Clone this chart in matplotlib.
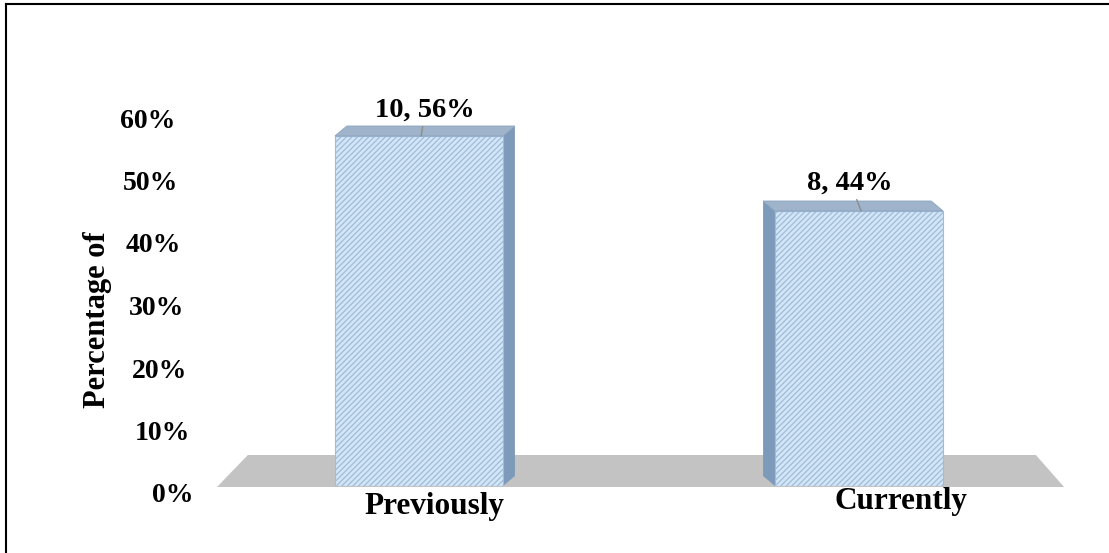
import matplotlib.pyplot as plt
import matplotlib.transforms as mtransforms
from matplotlib.patches import Polygon
from matplotlib.lines import Line2D

plt.rcParams["font.family"] = "Liberation Serif"
plt.rcParams["font.weight"] = "bold"
plt.rcParams["hatch.color"] = "#9fbcd8"
plt.rcParams["hatch.linewidth"] = 0.9

categories = ["Previously", "Currently"]
counts = [10, 8]
percents = [56, 44]
yticks = [0, 10, 20, 30, 40, 50, 60]

W, H = 1109, 553
fig = plt.figure(figsize=(W / 100, H / 100), dpi=100)
ax = fig.add_axes([199 / W, (H - 486) / H, 880 / W, 375 / H])
ax.set_xlim(-0.5, 1.5)
ax.set_ylim(0, 60)
ax.axis("on")
for s in ax.spines.values():
    s.set_visible(False)

# grey floor (perspective slab)
floor = Polygon([(-0.459, -0.16), (-0.389, 4.96), (1.402, 4.96), (1.466, -0.16)],
                closed=True, facecolor="#c3c3c3", edgecolor="none", clip_on=False, zorder=1)
ax.add_patch(floor)

x = list(range(len(categories)))
width = 0.382
bars = ax.bar(x, percents, width=width, color="#d3e6f8", edgecolor="#9fbcd8",
              linewidth=0.8, hatch="//////", zorder=3)

# fake 3D: top and side faces
for xi, v in zip(x, percents):
    dx = -(xi - 0.5) * 0.054
    dy = 1.6
    l, r = xi - width / 2, xi + width / 2
    top = Polygon([(l, v), (r, v), (r + dx, v + dy), (l + dx, v + dy)],
                  closed=True, facecolor="#9fb3cb", edgecolor="#8aa3bf", lw=0.6,
                  clip_on=False, zorder=4)
    ax.add_patch(top)
    edge = r if dx > 0 else l
    side = Polygon([(edge, 0), (edge, v), (edge + dx, v + dy), (edge + dx, dy)],
                   closed=True, facecolor="#7d9aba", edgecolor="none",
                   clip_on=False, zorder=2)
    ax.add_patch(side)

# value labels with leader lines
offsets = [(4, 26), (-11, 28)]
for xi, v, n, off in zip(x, percents, counts, offsets):
    ax.annotate(f"{n}, {v}%", xy=(xi + 0.005, v), xytext=off, textcoords="offset pixels",
                ha="center", va="center", fontsize=20.5, fontweight="bold",
                arrowprops=dict(arrowstyle="-", color="#8c8c8c", lw=1, shrinkA=1, shrinkB=0),
                zorder=6)

# y axis labels
ax.set_yticks(yticks)
ax.set_yticklabels([f"{t}%" for t in yticks], fontsize=20, fontweight="bold")
ax.tick_params(axis="y", length=0, pad=17)
for t, lab in zip(yticks, ax.get_yticklabels()):
    lab.set_transform(lab.get_transform() + mtransforms.Affine2D().translate((60 - t) * 0.3, -7))

ax.set_xticks(x)
ax.set_xticklabels(categories, fontsize=22.5, fontweight="bold")
ax.tick_params(axis="x", length=0, pad=4)
for xi, lab in zip(x, ax.get_xticklabels()):
    lab.set_transform(lab.get_transform() + mtransforms.Affine2D().translate(15 + 27 * xi, 5 * xi))

fig.text(97 / W, 1 - 320 / H, "Percentage of", rotation=90, ha="center", va="center",
         fontsize=22, fontweight="bold")

# frame around the figure
fig.add_artist(Line2D([6 / W, 6 / W], [0, 1 - 4 / H], transform=fig.transFigure,
                      color="black", lw=1.5))
fig.add_artist(Line2D([6 / W, 1], [1 - 4 / H, 1 - 4 / H], transform=fig.transFigure,
                      color="black", lw=1.5))

fig.savefig("out.png", dpi=100)
